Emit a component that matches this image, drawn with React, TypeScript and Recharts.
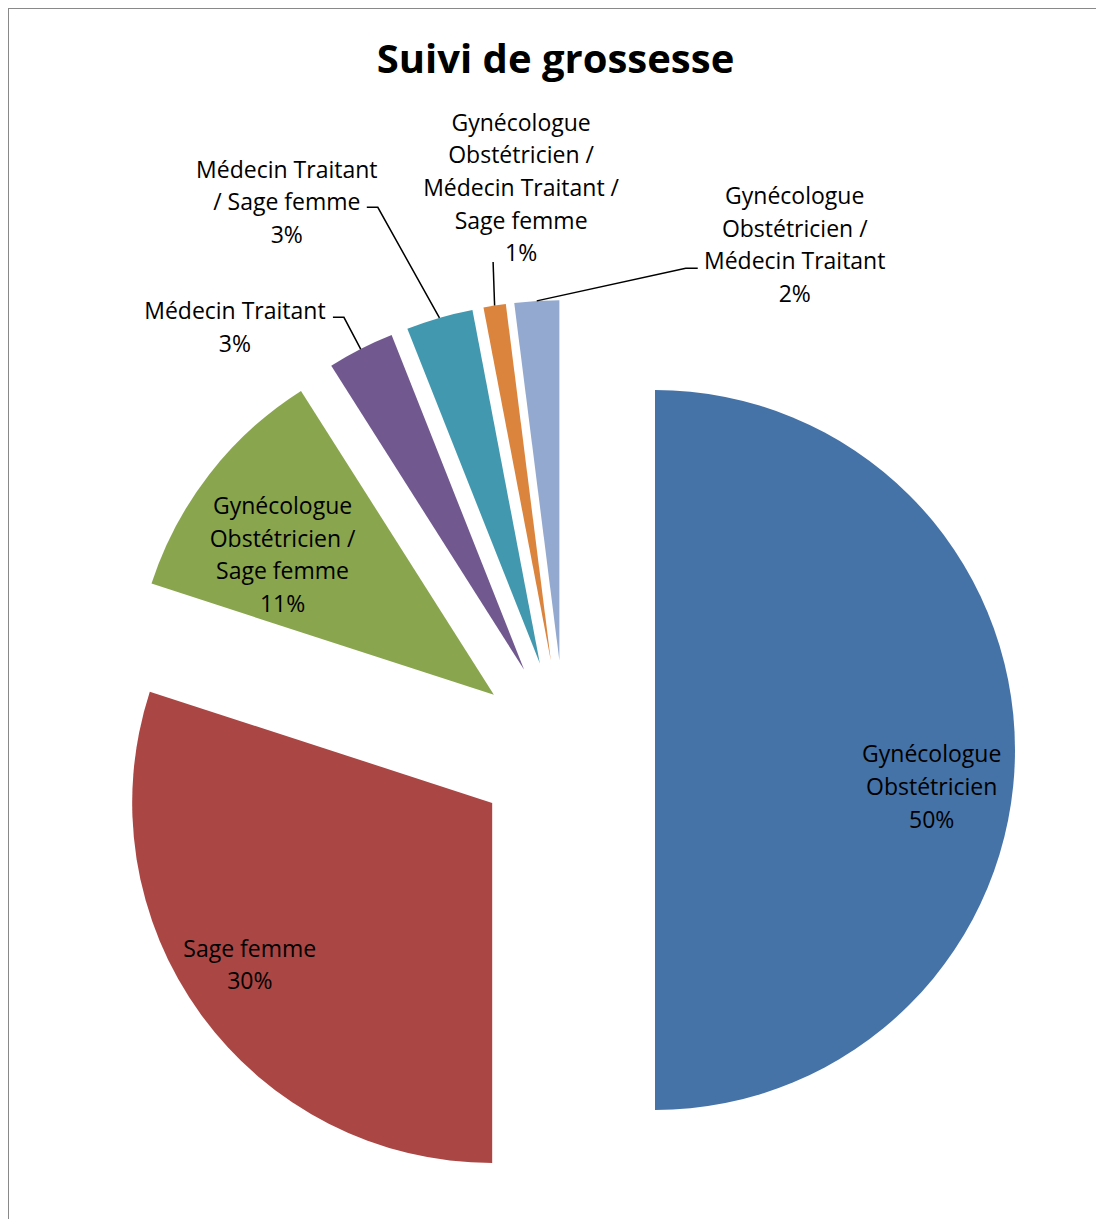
import { PieChart, Pie, Cell } from "recharts";

const categories = [
  "Gynécologue Obstétricien",
  "Sage femme",
  "Gynécologue Obstétricien / Sage femme",
  "Médecin Traitant",
  "Médecin Traitant / Sage femme",
  "Gynécologue Obstétricien / Médecin Traitant / Sage femme",
  "Gynécologue Obstétricien / Médecin Traitant",
];
const values = [50, 30, 11, 3, 3, 1, 2];
// how the category names wrap in the chart
const labelLines = [
  ["Gynécologue", "Obstétricien"],
  ["Sage femme"],
  ["Gynécologue", "Obstétricien /", "Sage femme"],
  ["Médecin Traitant"],
  ["Médecin Traitant", "/ Sage femme"],
  ["Gynécologue", "Obstétricien /", "Médecin Traitant /", "Sage femme"],
  ["Gynécologue", "Obstétricien /", "Médecin Traitant"],
];

const COLORS = ["#4572A7", "#AA4643", "#89A54E", "#71588F", "#4198AF", "#DB843D", "#93A9CF"];

// label block position relative to each slice's own centre (px, degrees ccw from 3 o'clock)
// attach/tail = where the leader line meets the label block
const labelPlacement = [
  { r: 279, angle: -7.4 },
  { r: 291, angle: 213.6 },
  { r: 254, angle: 146.3 },
  { r: 449, angle: 130.1, attach: [98, -9], tail: 11 },
  { r: 527, angle: 118.7, attach: [80, 6], tail: 11 },
  { r: 475, angle: 93.6, attach: [-28, 75], tail: 0 },
  { r: 478, angle: 60.5, attach: [-97, 24], tail: -12 },
];

const W = 1100;
const H = 1215;
const CX = 556;
const CY = 741;
const RADIUS = 360;
const EXPLODE = 90;
const LINE_H = 32.7;
const FONT = "'Open Sans', Lato, sans-serif";
const RAD = Math.PI / 180;

const total = values.reduce((a, b) => a + b, 0);
const data = categories.map((name, i) => ({ name, value: values[i] }));

const midAngles = values.map((v, i) => {
  const before = values.slice(0, i).reduce((a, b) => a + b, 0);
  return 90 - ((before + v / 2) / total) * 360;
});

const makeLabel = (slice: number) => (props: any) => {
  if (props.index !== slice) return null;
  const { cx, cy, midAngle, outerRadius } = props;
  const place = labelPlacement[slice];
  const lx = cx + place.r * Math.cos(place.angle * RAD);
  const ly = cy - place.r * Math.sin(place.angle * RAD);
  const lines = [...labelLines[slice], `${Math.round((values[slice] / total) * 100)}%`];
  const n = lines.length;

  let leader = null;
  if (place.attach) {
    const ex = cx + outerRadius * Math.cos(midAngle * RAD);
    const ey = cy - outerRadius * Math.sin(midAngle * RAD);
    const ax = lx + place.attach[0];
    const ay = ly + place.attach[1];
    const bx = ax + (place.tail || 0);
    leader = (
      <polyline
        points={`${ex},${ey} ${bx},${ay} ${ax},${ay}`}
        fill="none"
        stroke="#000"
        strokeWidth={1.5}
      />
    );
  }

  return (
    <g>
      {leader}
      <text
        x={lx}
        y={ly}
        textAnchor="middle"
        fontFamily={FONT}
        fontSize={23}
        fill="#000"
      >
        {lines.map((t, k) => (
          <tspan key={k} x={lx} y={ly + (k - (n - 1) / 2) * LINE_H} dominantBaseline="central">
            {t}
          </tspan>
        ))}
      </text>
    </g>
  );
};

export default function App() {
  return (
    <div
      style={{
        position: "relative",
        width: W,
        height: H,
        marginLeft: -1,
        marginTop: -1,
        borderLeft: "2px solid #898989",
        borderTop: "2px solid #898989",
        background: "#fff",
      }}
    >
      <PieChart width={W} height={H} margin={{ top: 0, right: 0, bottom: 0, left: 0 }}>
        {values.map((_, i) => (
          <Pie
            key={i}
            data={data}
            dataKey="value"
            nameKey="name"
            cx={CX + EXPLODE * Math.cos(midAngles[i] * RAD)}
            cy={CY - EXPLODE * Math.sin(midAngles[i] * RAD)}
            outerRadius={RADIUS}
            startAngle={90}
            endAngle={-270}
            stroke="none"
            labelLine={false}
            label={makeLabel(i)}
            isAnimationActive={false}
          >
            {data.map((_, j) => (
              <Cell key={`cell-${j}`} fill={j === i ? COLORS[j] : "transparent"} stroke="none" />
            ))}
          </Pie>
        ))}
      </PieChart>
      <svg
        width={W}
        height={100}
        style={{ position: "absolute", left: 0, top: 0, pointerEvents: "none" }}
      >
        <text
          x={546.5}
          y={64}
          textAnchor="middle"
          fontFamily={FONT}
          fontWeight="bold"
          fontSize={40}
          fill="#000"
        >
          Suivi de grossesse
        </text>
      </svg>
    </div>
  );
}
